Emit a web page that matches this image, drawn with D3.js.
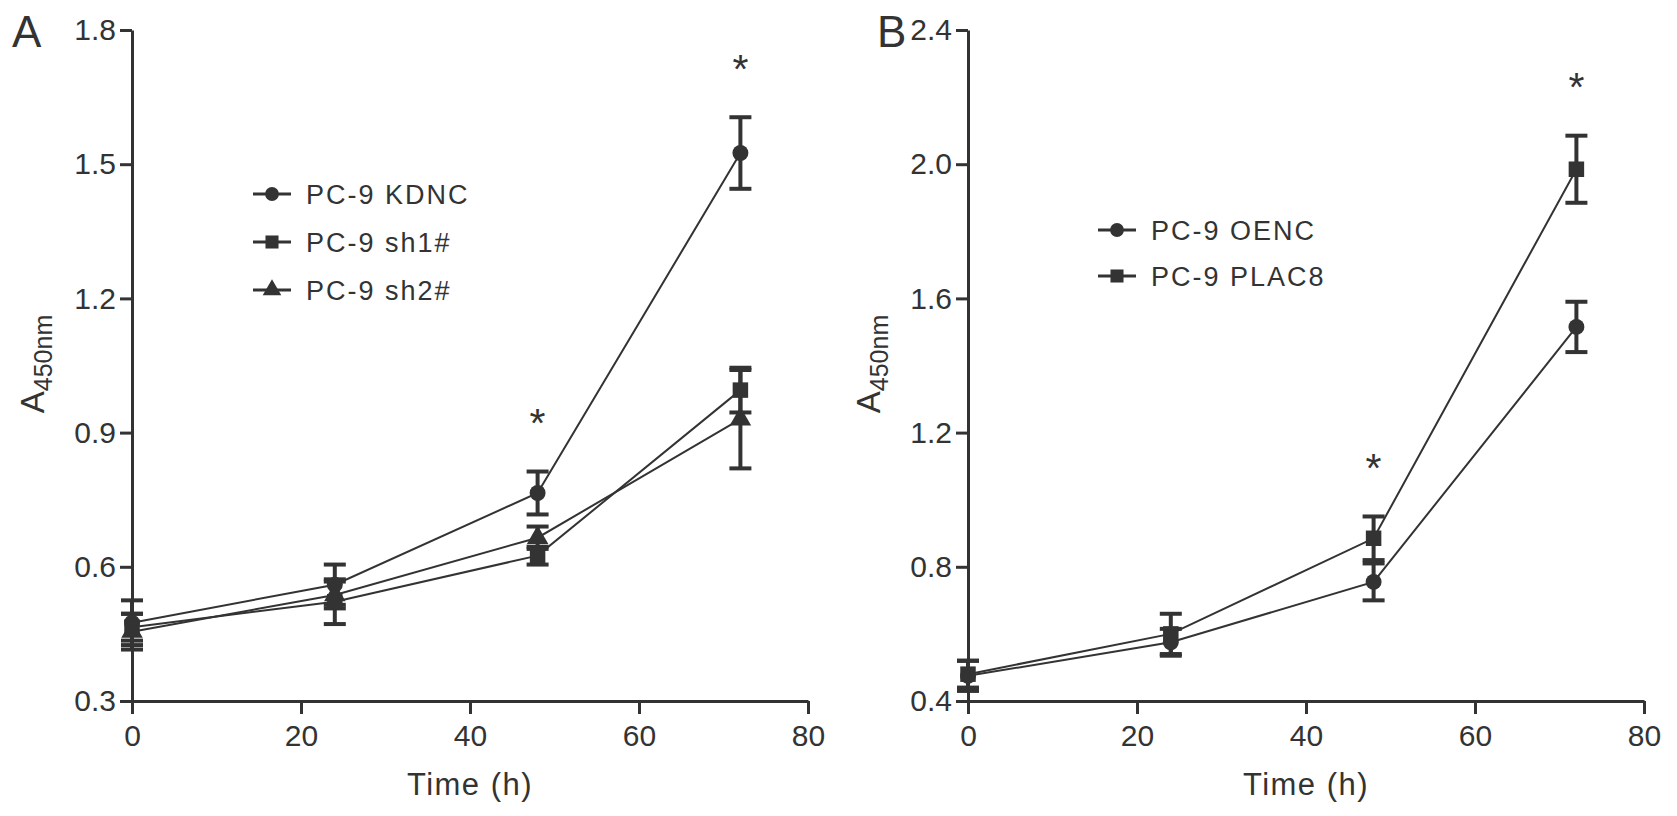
<!DOCTYPE html>
<html>
<head>
<meta charset="utf-8">
<script src="https://cdn.jsdelivr.net/npm/d3@7"></script>
<style>
  body { margin: 0; background: #fff; }
  text { font-family: Arial, "Liberation Sans", Helvetica, sans-serif; fill: #333; }
</style>
</head>
<body>
<script>
// 数据
const times = [0, 24, 48, 72];

// A 图
const kdncMean = [0.475, 0.56, 0.765, 1.525];
const kdncErr  = [0.05, 0.045, 0.048, 0.08];
const sh1Mean  = [0.465, 0.522, 0.625, 0.995];
const sh1Err   = [0.03, 0.05, 0.02, 0.05];
const sh2Mean  = [0.455, 0.537, 0.665, 0.93];
const sh2Err   = [0.04, 0.03, 0.025, 0.11];
const yTicksA  = [0.3, 0.6, 0.9, 1.2, 1.5, 1.8];
const sigA     = [48, 72];

// B 图
const oencMean  = [0.475, 0.575, 0.755, 1.515];
const oencErr   = [0.045, 0.04, 0.055, 0.075];
const plac8Mean = [0.48, 0.6, 0.885, 1.985];
const plac8Err  = [0.04, 0.06, 0.065, 0.1];
const yTicksB   = [0.4, 0.8, 1.2, 1.6, 2.0, 2.4];
const sigB      = [48, 72];

const xTicks = [0, 20, 40, 60, 80];

const width = 1677, height = 816;
const ink = "#333";

const svg = d3.select("body").append("svg")
    .attr("width", width)
    .attr("height", height);

const shapes = {
    circle: d3.symbol().type(d3.symbolCircle).size(200),
    square: d3.symbol().type(d3.symbolSquare).size(240),
    triangle: d3.symbol().type(d3.symbolTriangle).size(200)
};
const legendShapes = {
    circle: d3.symbol().type(d3.symbolCircle).size(150),
    square: d3.symbol().type(d3.symbolSquare).size(170),
    triangle: d3.symbol().type(d3.symbolTriangle).size(150)
};

function drawPanel(p) {
    const x = d3.scaleLinear().domain([0, 80]).range([p.left, p.left + 676]);
    const y = d3.scaleLinear().domain(p.yDomain).range([701, 30]);
    const g = svg.append("g");

    // 坐标轴
    const xAxis = g.append("g")
        .attr("transform", `translate(0,${y(p.yDomain[0])})`)
        .call(d3.axisBottom(x).tickValues(xTicks).tickSize(13).tickPadding(11).tickSizeOuter(0));
    const yAxis = g.append("g")
        .attr("transform", `translate(${x(0)},0)`)
        .call(d3.axisLeft(y).tickValues(p.yTicks).tickSize(12).tickPadding(4).tickSizeOuter(0)
            .tickFormat(d3.format(".1f")));
    [xAxis, yAxis].forEach(a => {
        a.select(".domain").attr("stroke", ink).attr("stroke-width", 3);
        a.selectAll(".tick line").attr("stroke", ink).attr("stroke-width", 3);
        a.selectAll(".tick text").attr("font-size", 30).attr("fill", ink)
            .style("font-family", "Arial, 'Liberation Sans', sans-serif");
    });

    // 轴标题
    g.append("text")
        .attr("x", x(40)).attr("y", 795)
        .attr("text-anchor", "middle")
        .attr("font-size", 31)
        .attr("letter-spacing", 1.5)
        .text("Time (h)");
    const yt = g.append("text")
        .attr("transform", `translate(${p.left - 88},364) rotate(-90)`)
        .attr("text-anchor", "middle")
        .attr("font-size", 33);
    yt.append("tspan").text("A");
    yt.append("tspan").attr("font-size", 25).attr("dy", 8).text("450nm");

    // 面板字母
    g.append("text")
        .attr("x", p.letterX).attr("y", 47)
        .attr("font-size", 44)
        .text(p.letter);

    const line = d3.line().x((d, i) => x(times[i])).y(d => y(d));

    // 折线
    p.series.forEach(s => {
        g.append("path")
            .datum(s.mean)
            .attr("fill", "none")
            .attr("stroke", ink)
            .attr("stroke-width", 2)
            .attr("d", line);
    });

    // 误差线
    p.series.forEach(s => {
        const eb = g.append("g");
        s.mean.forEach((m, i) => {
            const cx = x(times[i]);
            eb.append("line")
                .attr("x1", cx).attr("x2", cx)
                .attr("y1", y(m - s.err[i])).attr("y2", y(m + s.err[i]))
                .attr("stroke", ink).attr("stroke-width", 4);
            [m - s.err[i], m + s.err[i]].forEach(v => {
                eb.append("line")
                    .attr("x1", cx - 11).attr("x2", cx + 11)
                    .attr("y1", y(v)).attr("y2", y(v))
                    .attr("stroke", ink).attr("stroke-width", 4);
            });
        });
    });

    // 标记点
    p.series.forEach(s => {
        g.selectAll(null)
            .data(s.mean)
            .enter().append("path")
            .attr("d", shapes[s.shape])
            .attr("transform", (d, i) => `translate(${x(times[i])},${y(d)})`)
            .attr("fill", ink);
    });

    // 显著性星号
    p.sig.forEach(t => {
        const i = times.indexOf(t);
        const top = d3.max(p.series, s => s.mean[i] + s.err[i]);
        g.append("text")
            .attr("x", x(t)).attr("y", y(top) - 65)
            .attr("text-anchor", "middle")
            .attr("dy", "0.75em")
            .attr("font-size", 41)
            .text("*");
    });

    // 图例
    const lg = g.append("g").attr("transform", `translate(${p.legendX},${p.legendY})`);
    p.series.forEach((s, i) => {
        const row = lg.append("g").attr("transform", `translate(0,${i * p.legendGap})`);
        row.append("line")
            .attr("x1", 0).attr("x2", 38)
            .attr("stroke", ink).attr("stroke-width", 3);
        row.append("path")
            .attr("d", legendShapes[s.shape])
            .attr("transform", "translate(19,0)")
            .attr("fill", ink);
        row.append("text")
            .attr("x", 53).attr("dy", "0.36em")
            .attr("font-size", 27)
            .attr("letter-spacing", 2)
            .text(s.name);
    });
}

drawPanel({
    letter: "A", letterX: 12,
    left: 132,
    yDomain: [0.3, 1.8], yTicks: yTicksA,
    sig: sigA,
    legendX: 253, legendY: 194, legendGap: 48,
    series: [
        { name: "PC-9 KDNC", mean: kdncMean, err: kdncErr, shape: "circle" },
        { name: "PC-9 sh1#", mean: sh1Mean, err: sh1Err, shape: "square" },
        { name: "PC-9 sh2#", mean: sh2Mean, err: sh2Err, shape: "triangle" }
    ]
});

drawPanel({
    letter: "B", letterX: 877,
    left: 968,
    yDomain: [0.4, 2.4], yTicks: yTicksB,
    sig: sigB,
    legendX: 1098, legendY: 230, legendGap: 46,
    series: [
        { name: "PC-9 OENC", mean: oencMean, err: oencErr, shape: "circle" },
        { name: "PC-9 PLAC8", mean: plac8Mean, err: plac8Err, shape: "square" }
    ]
});
</script>
</body>
</html>
